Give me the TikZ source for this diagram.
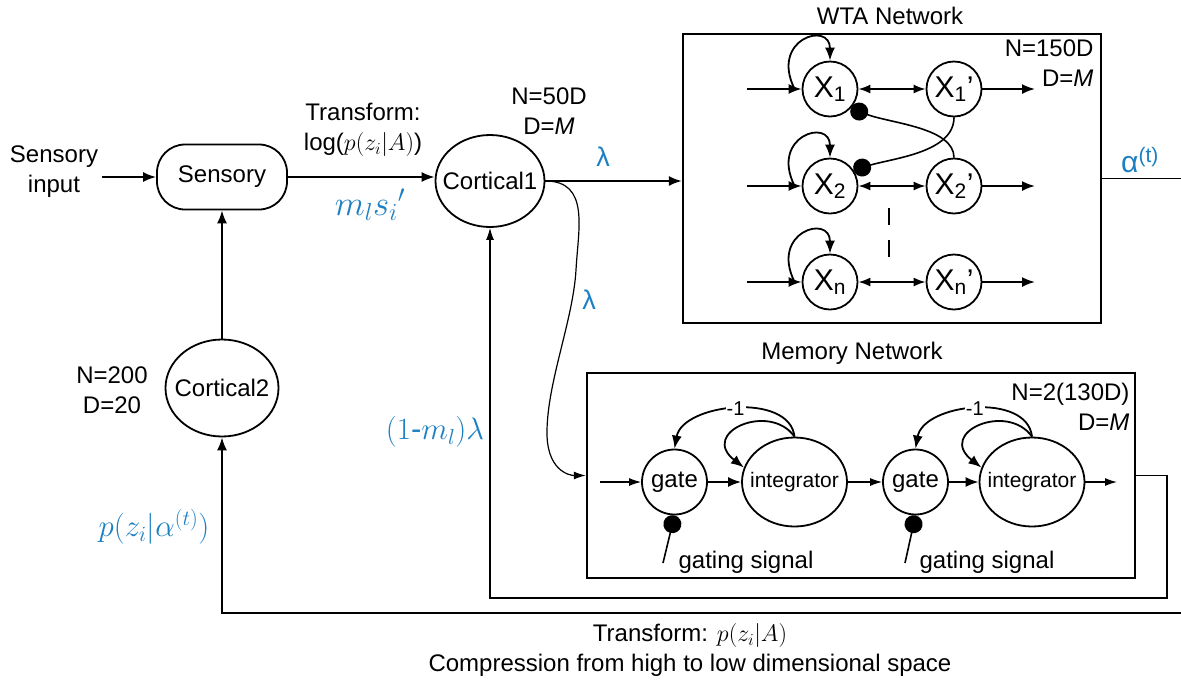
\RequirePackage{fix-cm}
\documentclass[tikz,border=0pt]{standalone}
\usepackage{fontspec}
\setmainfont{Liberation Sans}
\usepackage{tikz}
\usetikzlibrary{arrows.meta,positioning,shapes.geometric}
\definecolor{labelblue}{RGB}{28,128,194}

\begin{document}
\begin{tikzpicture}[
  x=1pt, y=-1pt,
  font=\fontsize{24}{30}\selectfont,
  arr/.style={-{Latex[length=13pt,width=10pt]}, line width=1.8pt},
  thinarr/.style={-{Latex[length=12pt,width=8pt]}, line width=1.2pt},
  biarr/.style={{Latex[length=12pt,width=9pt]}-{Latex[length=12pt,width=9pt]}, line width=1.8pt},
  inh/.style={-{Circle[length=18pt]}, line width=1.6pt},
  cell/.style={draw, circle, line width=1.8pt, minimum size=55pt, inner sep=1pt, font=\fontsize{30}{30}\selectfont},
  ell/.style={draw, ellipse, line width=1.8pt, inner sep=0pt},
  netbox/.style={draw, line width=2.4pt, inner sep=0pt},
  note/.style={align=center},
  bluelabel/.style={text=labelblue, font=\fontsize{31}{34}\selectfont},
  minus/.style={fill=white, inner sep=1pt, font=\fontsize{20}{20}\selectfont},
]
\useasboundingbox (0,0) rectangle (1181,681);

% ====== MAIN PATH ======
\node[note] (sensin) at (54,172) {Sensory\\input};
\node[draw, line width=1.8pt, rounded corners=28pt, minimum width=130pt, minimum height=65pt] (sensory) at (222,177) {Sensory};
\node[ell, minimum width=109pt, minimum height=92pt, label=center:Cortical1] (cort1) at (490,181) {};
\node[ell, minimum width=113pt, minimum height=97pt, label=center:Cortical2] (cort2) at (222,388) {};

% labels
\node[note] (trans1) at (363,130) {Transform:\\log($p(z_i|A)$)};
\node[bluelabel, font=\fontsize{35}{36}\selectfont] (msi) at (370,205) {$m_l {s_i}'$};
\node[note] (cort1dim) at (549,111) {N=50D\\D=\textit{M}};
\node[note] (cort2dim) at (112,390) {N=200\\D=20};
\node[bluelabel, font=\fontsize{27}{30}\selectfont] (lamwta) at (603,157) {λ};
\node[bluelabel, font=\fontsize{27}{30}\selectfont] (lammem) at (589,300) {λ};
\node[bluelabel] (lamback) at (435,432) {$(1$-$m_l)\lambda$};
\node[bluelabel] (pza) at (154,527) {$p(z_i|\alpha^{(t)})$};
\node[bluelabel, font=\fontsize{30}{30}\selectfont] (alphaout) at (1140,160) {α\textsuperscript{(t)}};

% ====== WTA NETWORK ======
\node[netbox, minimum width=418pt, minimum height=289pt] (wtabox) at (892,178.5) {};
\node (wtatitle) at (890,16) {WTA Network};
\node[note, align=right, anchor=east] (wtadim) at (1097,63) {N=150D\\D=\textit{M}};

\node[cell] (x1) at (830,89) {X\textsubscript{1}};
\node[cell] (x1p) at (954,89) {X\textsubscript{1}'};
\node[cell] (x2) at (830,186) {X\textsubscript{2}};
\node[cell] (x2p) at (954,186) {X\textsubscript{2}'};
\node[cell] (xn) at (830,282) {X\textsubscript{n}};
\node[cell] (xnp) at (954,282) {X\textsubscript{n}'};

\coordinate (x1in) at (747,89);
\coordinate (x2in) at (747,186);
\coordinate (xnin) at (747,282);
\coordinate (x1out) at (1035,89);
\coordinate (x2out) at (1035,186);
\coordinate (xnout) at (1035,282);

\draw[arr] (x1in) -- (x1);
\draw[arr] (x2in) -- (x2);
\draw[arr] (xnin) -- (xn);
\draw[biarr] (x1) -- (x1p);
\draw[biarr] (x2) -- (x2p);
\draw[biarr] (xn) -- (xnp);
\draw[arr] (x1p) -- (x1out);
\draw[arr] (x2p) -- (x2out);
\draw[arr] (xnp) -- (xnout);

% self excitation
\draw[arr] ([xshift=-7pt]x1.west) .. controls +(-25,-50) and +(0,-40) .. (x1.north);
\draw[arr] ([xshift=-7pt]x2.west) .. controls +(-25,-50) and +(0,-40) .. (x2.north);
\draw[arr] ([xshift=-7pt]xn.west) .. controls +(-25,-50) and +(0,-40) .. (xn.north);

% inhibition
\draw[inh] (x1p.south) .. controls +(0,35) and +(40,-12) .. (x2.34);
\draw[inh] (x2p.north) .. controls +(0,-30) and +(40,15) .. (x1.-43);

\draw[line width=2pt] (889,208) -- (889,225);
\draw[line width=2pt] (889,240) -- (889,257);

% ====== MEMORY NETWORK ======
\node[netbox, minimum width=548pt, minimum height=205pt] (membox) at (861,475.5) {};
\node (memtitle) at (852,353) {Memory Network};
\node[note, align=right, anchor=east] (memdim) at (1133,407) {N=2(130D)\\D=\textit{M}};

\node[cell, minimum size=65pt, font=\fontsize{24}{24}\selectfont] (gate1) at (674.5,482) {gate};
\node[ell, minimum width=105pt, minimum height=89pt, label={[font=\fontsize{21}{24}\selectfont]center:integrator}] (int1) at (794.5,482) {};
\node[cell, minimum size=65pt, font=\fontsize{24}{24}\selectfont] (gate2) at (915.5,482) {gate};
\node[ell, minimum width=105pt, minimum height=89pt, label={[font=\fontsize{21}{24}\selectfont]center:integrator}] (int2) at (1032,482) {};

\coordinate (memin) at (600,482);
\coordinate (memout) at (1117,482);
\draw[thinarr] (memin) -- (gate1);
\draw[arr] (gate1) -- (int1);
\draw[thinarr] (int1) -- (gate2);
\draw[arr] (gate2) -- (int2);
\draw[thinarr] (int2) -- (memout);

% -1 feedback and self loops
\draw[arr] (int1.north) .. controls +(-5,-45) and +(8,-45) .. (gate1.north) node[minus, pos=0.5] {-1};
\draw[arr] (int1.north) .. controls +(-25,-35) and +(-45,-35) .. (int1.164);
\draw[arr] (int2.north) .. controls +(-5,-45) and +(8,-45) .. (gate2.north) node[minus, pos=0.5] {-1};
\draw[arr] (int2.north) .. controls +(-25,-35) and +(-45,-35) .. (int2.164);

% gating
\coordinate (gs1) at (663,563);
\coordinate (gs2) at (905,563);
\draw[inh] (gs1) -- (gate1.south);
\draw[inh] (gs2) -- (gate2.south);
\node (gsig1) at (746,562) {gating signal};
\node (gsig2) at (987,562) {gating signal};

% ====== CONNECTIONS ======
\draw[arr] (sensin.east |- sensory) -- (sensory);
\draw[arr] (sensory.east) -- (sensory.east -| cort1.west);
\draw[arr] (cort2) -- (sensory);
\draw[arr] (cort1.east) -- (cort1.east -| wtabox.west);

\coordinate (wtaout) at (1181,180);
\draw[line width=1.8pt] (wtabox.east) -- (wtabox.east -| wtaout);

\draw[thinarr] (cort1.east) .. controls +(45,0) and +(2,-40) .. (576,270)
  .. controls +(-3,50) and +(1,-50) .. (547,430)
  .. controls +(-1,40) and +(-17,0) .. (membox.west);

\coordinate (memret) at (1167,598);
\draw[thinarr] (membox.east) -| (memret) -| (cort1.south);

\coordinate (fbin) at (1181,613);
\draw[arr] (fbin) -| (cort2.south);

\node[note] (bottomnote) at (690,650) {Transform: $p(z_i|A)$\\Compression from high to low dimensional space};

\end{tikzpicture}
\end{document}
